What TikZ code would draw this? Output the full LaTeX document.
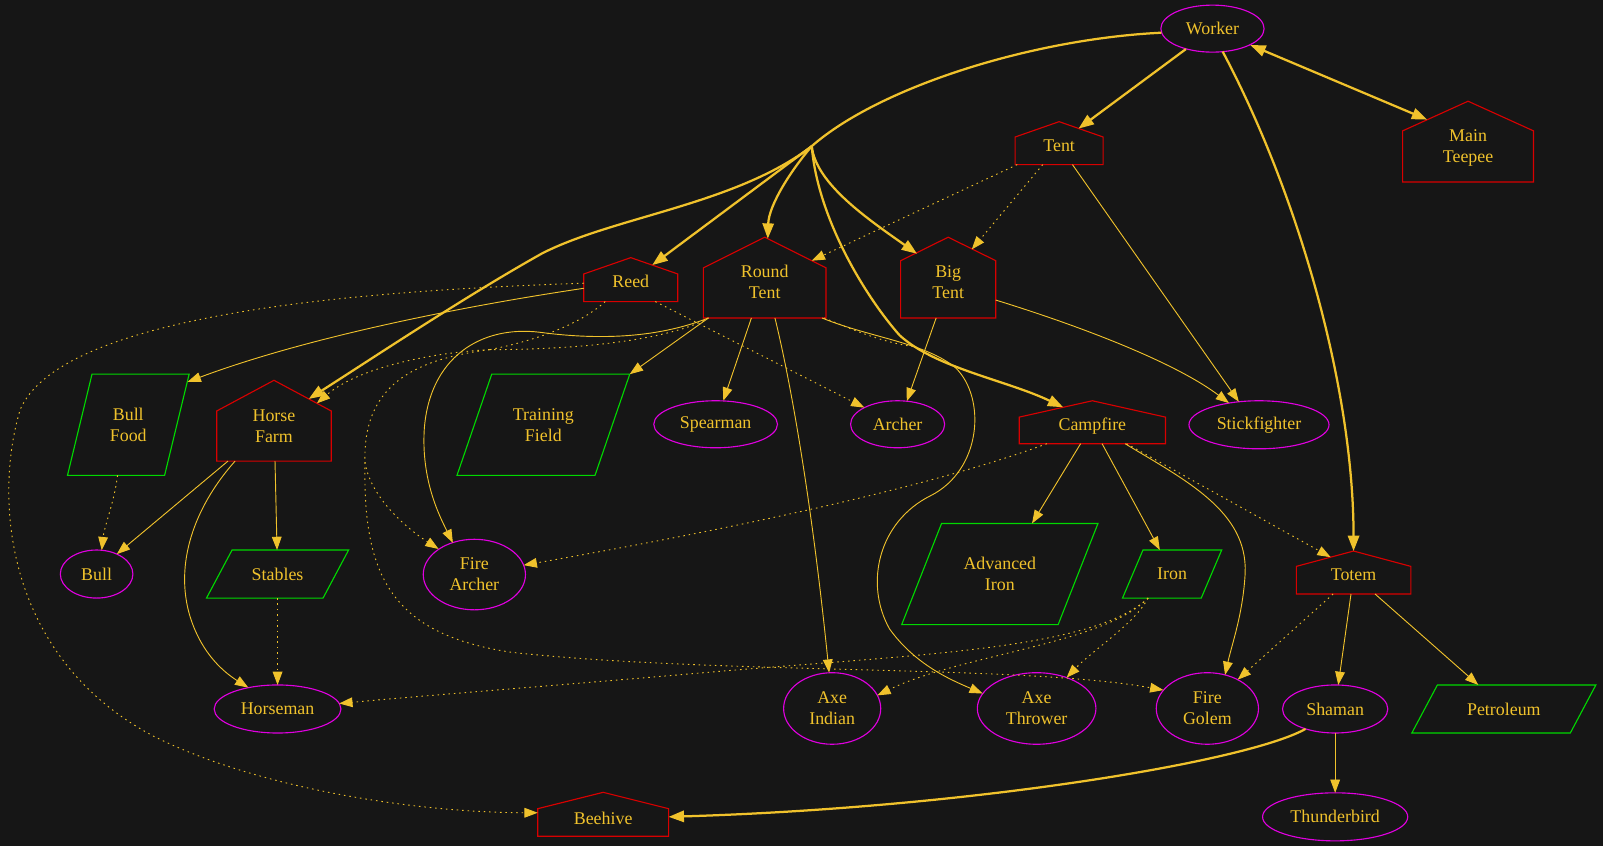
\documentclass[tikz,border=0pt]{standalone}
\usepackage{fontspec}
\setmainfont{Liberation Serif}
\usetikzlibrary{arrows.meta,shapes.geometric,calc}
\definecolor{bgc}{HTML}{161616}
\definecolor{edgey}{HTML}{F0C22C}
\definecolor{ellm}{HTML}{E000E0}
\definecolor{houser}{HTML}{D80000}
\definecolor{parag}{HTML}{00D800}
\newcommand\houseoutline[2]{\draw[houseline] (#1.south west) -- (#1.south east) -- ([yshift=-#2pt]#1.north east) -- (#1.north) -- ([yshift=-#2pt]#1.north west) -- cycle;}
\newcommand\paraoutline[2]{\draw[paraline] (#1.south west) -- ([xshift=-#2pt]#1.south east) -- (#1.north east) -- ([xshift=#2pt]#1.north west) -- cycle;}
\tikzset{
 lbl/.style={inner sep=0pt, outer sep=0pt, text=edgey, align=center, font=\fontsize{17.5}{20.5}\selectfont},
 ellnode/.style={lbl, ellipse, draw=ellm, line width=1.1pt},
 housebox/.style={inner sep=0pt, outer sep=0pt, rectangle},
 htext/.style={label={[lbl, yshift=-#1pt]center:{\housetext}}},
 parabox/.style={lbl, rectangle},
 houseline/.style={draw=houser, line width=1.1pt},
 paraline/.style={draw=parag, line width=1.1pt},
 thinedge/.style={draw=edgey, line width=0.9pt, -{Triangle[length=13pt,width=9.5pt]}},
 thickedge/.style={draw=edgey, line width=2.2pt, -{Triangle[length=15pt,width=11pt]}},
 dotedge/.style={thinedge, dash pattern=on 1.5pt off 3.8pt},
 thickline/.style={draw=edgey, line width=2.2pt},
 dotline/.style={draw=edgey, line width=0.9pt, dash pattern=on 1.5pt off 3.8pt},
}
\begin{document}
\begin{tikzpicture}[x=1pt,y=-1pt]
\fill[bgc] (0,0) rectangle (1568,828);
\useasboundingbox (0,0) rectangle (1568,828);

% ellipses
\node[ellnode, minimum width=101pt, minimum height=46pt] (worker) at (1186,28) {Worker};
\node[ellnode, minimum width=121pt, minimum height=46pt] (spearman) at (700,415) {Spearman};
\node[ellnode, minimum width=92pt, minimum height=46pt] (archer) at (878,415) {Archer};
\node[ellnode, minimum width=137pt, minimum height=47pt] (stickfighter) at (1231.5,415.5) {Stickfighter};
\node[ellnode, minimum width=71pt, minimum height=47pt] (bull) at (94.5,561.5) {Bull};
\node[ellnode, minimum width=100pt, minimum height=69pt] (firearcher) at (464,562) {Fire\\Archer};
\node[ellnode, minimum width=124pt, minimum height=47pt] (horseman) at (271.5,693.5) {Horseman};
\node[ellnode, minimum width=95pt, minimum height=70pt] (axeindian) at (814,693) {Axe\\Indian};
\node[ellnode, minimum width=116pt, minimum height=70pt] (axethrower) at (1014,693) {Axe\\Thrower};
\node[ellnode, minimum width=100pt, minimum height=70pt] (firegolem) at (1181,693) {Fire\\Golem};
\node[ellnode, minimum width=103pt, minimum height=47pt] (shaman) at (1306,693.5) {Shaman};
\node[ellnode, minimum width=142pt, minimum height=47pt] (thunderbird) at (1306,799) {Thunderbird};

% houses
\node[housebox, minimum width=128pt, minimum height=79pt, label={[lbl, yshift=-6pt]center:{Main\\Teepee}}] (mainteepee) at (1436,138.5) {};
\node[housebox, minimum width=86pt, minimum height=42pt, label={[lbl, yshift=-3pt]center:{Tent}}] (tent) at (1036,140) {};
\node[housebox, minimum width=92pt, minimum height=43pt, label={[lbl, yshift=-2pt]center:{Reed}}] (reed) at (617,273.5) {};
\node[housebox, minimum width=120pt, minimum height=79pt, label={[lbl, yshift=-4.5pt]center:{Round\\Tent}}] (roundtent) at (748,271.5) {};
\node[housebox, minimum width=93pt, minimum height=79pt, label={[lbl, yshift=-4.5pt]center:{Big\\Tent}}] (bigtent) at (927.5,271.5) {};
\node[housebox, minimum width=143pt, minimum height=42pt, label={[lbl, yshift=-3.5pt]center:{Campfire}}] (campfire) at (1068.5,413) {};
\node[housebox, minimum width=112pt, minimum height=79pt, label={[lbl, yshift=-5pt]center:{Horse\\Farm}}] (horsefarm) at (268,411.5) {};
\node[housebox, minimum width=112pt, minimum height=42pt, label={[lbl, yshift=-2pt]center:{Totem}}] (totem) at (1324,560) {};
\node[housebox, minimum width=128pt, minimum height=43pt, label={[lbl, yshift=-4pt]center:{Beehive}}] (beehive) at (590,796.5) {};
\houseoutline{mainteepee}{29}
\houseoutline{tent}{15}
\houseoutline{reed}{16}
\houseoutline{roundtent}{30}
\houseoutline{bigtent}{23}
\houseoutline{campfire}{16}
\houseoutline{horsefarm}{30}
\houseoutline{totem}{15}
\houseoutline{beehive}{16}

% parallelograms
\node[parabox, minimum width=119pt, minimum height=99pt] (bullfood) at (125.5,415.5) {Bull\\Food};
\node[parabox, minimum width=169pt, minimum height=99pt] (trainingfield) at (531.5,415.5) {Training\\Field};
\node[parabox, minimum width=139pt, minimum height=47pt] (stables) at (271.5,561.5) {Stables};
\node[parabox, minimum width=192pt, minimum height=99pt] (advancediron) at (978,561.5) {Advanced\\Iron};
\node[parabox, minimum width=97pt, minimum height=47pt] (iron) at (1146.5,561.5) {Iron};
\node[parabox, minimum width=180pt, minimum height=47pt] (petroleum) at (1471,693.5) {Petroleum};
\paraoutline{bullfood}{24}
\paraoutline{trainingfield}{34}
\paraoutline{stables}{25}
\paraoutline{advancediron}{39}
\paraoutline{iron}{20}
\paraoutline{petroleum}{25}

\coordinate (br) at (794,143);
\coordinate (m1) at (479,342);
\coordinate (m2) at (357,452);
\coordinate (cfm) at (893,339);

% thick edges
\draw[thickedge] ($(worker)+(-26,20)$) -- ($(tent)+(19,-14.2)$);
\draw[thickedge, {Triangle[length=15pt,width=11pt]}-{Triangle[length=15pt,width=11pt]}] ($(worker)+(37,16)$) -- ($(mainteepee)+(-40,-21.5)$);
\draw[thickedge] ($(worker)+(10,22.5)$) .. controls (1270,190) and (1324,380) .. ($(totem)+(0,-21)$);
\draw[thickline] ($(worker)+(-50,4)$) .. controls (1010,38) and (860,85) .. (br);
\draw[thickedge] (br) -- ($(reed)+(21,-14.2)$);
\draw[thickedge] (br) .. controls (775,165) and (752,200) .. ($(roundtent)+(3,-38)$);
\draw[thickedge] (br) .. controls (798,180) and (850,215) .. ($(bigtent)+(-30.5,-23.3)$);
\draw[thickedge] (br) .. controls (800,215) and (848,292) .. (880,328) .. controls (915,360) and (985,372) .. ($(campfire)+(-28.5,-14.6)$);
\draw[thickedge] (br) .. controls (720,200) and (600,212) .. (530,248) .. controls (455,290) and (365,350) .. ($(horsefarm)+(34,-21.3)$);
\draw[thickedge] ($(shaman)+(-29,19.5)$) .. controls (1220,745) and (950,790) .. ($(beehive)+(64,2.5)$);

% thin edges
\draw[thinedge] ($(reed)+(-46,8.5)$) .. controls (450,300) and (300,330) .. ($(bullfood)+(58,-42)$);
\draw[thinedge] ($(tent)+(13,21)$) -- ($(stickfighter)+(-19.7,-22.5)$);
\draw[thinedge] ($(bigtent)+(-11.8,39.5)$) -- ($(archer)+(9,-22.5)$);
\draw[thinedge] ($(bigtent)+(46.5,22)$) .. controls (1060,320) and (1150,355) .. ($(stickfighter)+(-29.3,-21.2)$);
\draw[thinedge] ($(roundtent)+(-55,39.5)$) -- ($(trainingfield)+(84.5,-49.5)$);
\draw[thinedge] ($(roundtent)+(-13,39.5)$) -- ($(spearman)+(7.5,-23)$);
\draw[thinedge] ($(roundtent)+(10,39.5)$) .. controls (775,380) and (795,500) .. ($(axeindian)+(-3,-35)$);
\draw[thinedge] ($(roundtent)+(-55,39.5)$) .. controls (640,332) and (580,332) .. (528,325) .. controls (470,318) and (420,350) .. (415,420) .. controls (412,470) and (430,505) .. ($(firearcher)+(-21,-31)$);
\draw[thinedge] ($(roundtent)+(56,39.5)$) .. controls (850,330) and (905,335) .. (935,360) .. controls (965,390) and (960,460) .. (910,485) .. controls (860,510) and (845,570) .. (870,615) .. controls (895,650) and (930,665) .. ($(axethrower)+(-52.7,-14.6)$);
\draw[thinedge] ($(horsefarm)+(-45,39.5)$) -- ($(bull)+(19.8,-19.5)$);
\draw[thinedge] ($(horsefarm)+(1,39.5)$) -- ($(stables)+(-0.5,-23.5)$);
\draw[thinedge] ($(horsefarm)+(-38,39.5)$) .. controls (195,490) and (170,545) .. (185,600) .. controls (195,635) and (215,655) .. ($(horseman)+(-28.6,-20.9)$);
\draw[thinedge] ($(campfire)+(-11.5,21)$) -- ($(advancediron)+(31.5,-49.5)$);
\draw[thinedge] ($(campfire)+(9.5,21)$) -- ($(iron)+(-12,-23.5)$);
\draw[thinedge] ($(campfire)+(32,21)$) .. controls (1160,470) and (1220,500) .. (1218,560) .. controls (1216,600) and (1205,630) .. ($(firegolem)+(17.3,-32.8)$);
\draw[thinedge] ($(totem)+(-2.5,21)$) -- ($(shaman)+(3,-23.5)$);
\draw[thinedge] ($(totem)+(21,21)$) -- ($(petroleum)+(-25,-23.5)$);
\draw[thinedge] ($(shaman)+(0,23.5)$) -- ($(thunderbird)+(0,-23.5)$);

% dotted edges
\draw[dotedge] ($(tent)+(-41,21)$) -- ($(roundtent)+(46,-16.5)$);
\draw[dotedge] ($(tent)+(-16,21)$) -- ($(bigtent)+(23,-27.5)$);
\draw[dotedge] ($(reed)+(24,21.5)$) -- ($(archer)+(-32.5,-16.3)$);
\draw[dotedge] ($(reed)+(-46,3.5)$) .. controls (330,285) and (60,310) .. (20,400) .. controls (-5,480) and (0,640) .. (150,720) .. controls (260,775) and (420,795) .. ($(beehive)+(-64,-1.5)$);
\draw[dotedge] ($(bullfood)+(-10.5,49.5)$) .. controls (112,490) and (102,515) .. ($(bull)+(5,-23.3)$);
\draw[dotedge] ($(stables)+(0,23.5)$) -- ($(horseman)+(0,-23.5)$);
\draw[dotedge] ($(campfire)+(-44.5,21)$) .. controls (900,480) and (700,520) .. ($(firearcher)+(48.2,-9.2)$);
\draw[dotedge] ($(campfire)+(33.5,21)$) -- ($(totem)+(-22.4,-15)$);
\draw[dotedge] ($(totem)+(-20,21)$) -- ($(firegolem)+(29.7,-28.2)$);
\draw[dotline] ($(roundtent)+(58,39.5)$) .. controls (840,325) and (865,335) .. (cfm);
\draw[dotline] ($(reed)+(-25,21.5)$) .. controls (570,315) and (530,332) .. (m1);
\draw[dotline] ($(roundtent)+(-55,39.5)$) .. controls (660,330) and (580,342) .. (m1);
\draw[dotedge] (m1) .. controls (420,345) and (350,360) .. ($(horsefarm)+(42,-17)$);
\draw[dotline] (m1) .. controls (400,352) and (355,380) .. (m2);
\draw[dotedge] (m2) .. controls (362,485) and (395,515) .. ($(firearcher)+(-35,-25)$);
\draw[dotedge] (m2) .. controls (355,560) and (380,620) .. (500,638) .. controls (700,660) and (1000,650) .. ($(firegolem)+(-43,-18)$);
\draw[dotedge] ($(iron)+(-23.5,23.5)$) .. controls (1110,610) and (1070,635) .. ($(axethrower)+(29.3,-30.2)$);
\draw[dotedge] ($(iron)+(-23.5,23.5)$) .. controls (1080,630) and (940,640) .. ($(axeindian)+(44.2,-12.8)$);
\draw[dotedge] ($(iron)+(-23.5,23.5)$) .. controls (1070,635) and (900,640) .. (700,657) .. controls (550,670) and (420,680) .. ($(horseman)+(60.3,-5.4)$);
\end{tikzpicture}
\end{document}
